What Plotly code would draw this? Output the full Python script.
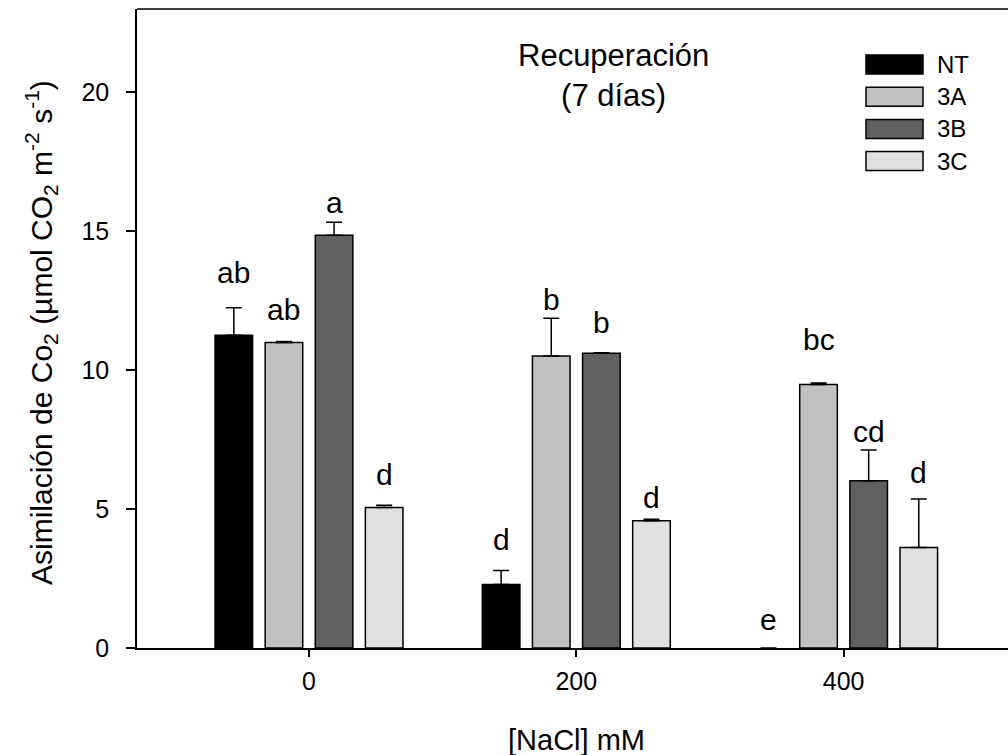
import plotly.graph_objects as go

# ---- data ----
nacl = [0, 200, 400]
series = ["NT", "3A", "3B", "3C"]
colors = ["#000000", "#c0c0c0", "#606060", "#e0e0e0"]
means = {
    "NT": [11.26, 2.29, 0.0],
    "3A": [11.00, 10.51, 9.48],
    "3B": [14.86, 10.61, 6.02],
    "3C": [5.06, 4.58, 3.62],
}
errs = {
    "NT": [0.99, 0.50, 0.0],
    "3A": [0.03, 1.36, 0.06],
    "3B": [0.46, 0.02, 1.11],
    "3C": [0.08, 0.05, 1.74],
}
letters = {
    "NT": ["ab", "d", "e"],
    "3A": ["ab", "b", "bc"],
    "3B": ["a", "b", "cd"],
    "3C": ["d", "d", "d"],
}
# baseline height (data units) of each letter label
letter_y = {
    "NT": [13.13, 3.53, 0.65],
    "3A": [11.80, 12.16, 10.72],
    "3B": [15.65, 11.33, 7.41],
    "3C": [5.86, 5.04, 5.94],
}
yticks = [0, 5, 10, 15, 20]

FONT = "Arial, Liberation Sans, sans-serif"
W, H = 1008, 755
ML, MR, MT, MB = 137, 0, 9, 107
PW, PH = W - ML - MR, H - MT - MB

def px(xp):
    return (xp - ML) / PW

def py(yp):
    return (H - MB - yp) / PH

bargap, bargroupgap = 0.25, 0.25
spacing = nacl[1] - nacl[0]
slot = spacing * (1 - bargap) / len(series)

fig = go.Figure()
for i, s in enumerate(series):
    m = means[s]
    fig.add_trace(go.Bar(
        x=nacl, y=m, name=s,
        marker=dict(color=colors[i],
                    line=dict(color="black", width=[1.5 if v > 0 else 0 for v in m])),
        error_y=dict(type="data",
                     array=[e if v > 0 else None for e, v in zip(errs[s], m)],
                     arrayminus=[0] * len(nacl),
                     symmetric=False, color="black", thickness=1.5, width=8),
        showlegend=False,
    ))

annotations = []
for i, s in enumerate(series):
    off = (i - (len(series) - 1) / 2) * slot
    for j, xv in enumerate(nacl):
        annotations.append(dict(
            x=xv + off, y=letter_y[s][j], xref="x", yref="y",
            text=letters[s][j], showarrow=False, yanchor="bottom",
            yshift=-8, font=dict(size=30, family=FONT, color="black")))

# title
annotations.append(dict(x=px(613), y=py(76), xref="paper", yref="paper",
                        text="Recuperación<br>(7 días)", showarrow=False,
                        font=dict(size=31, family=FONT, color="black"),
                        align="center", xanchor="center", yanchor="middle"))
# axis titles
annotations.append(dict(x=px(576), y=py(740), xref="paper", yref="paper",
                        text="[NaCl] mM", showarrow=False,
                        font=dict(size=29, family=FONT, color="black"),
                        xanchor="center", yanchor="middle"))
annotations.append(dict(x=px(41), y=py(333), xref="paper", yref="paper",
                        text="Asimilación de Co<sub>2</sub> (µmol CO<sub>2</sub> m<sup>-2</sup> s<sup>-1</sup>)",
                        showarrow=False, textangle=-90,
                        font=dict(size=30, family=FONT, color="black"),
                        xanchor="center", yanchor="middle"))

# legend drawn manually
shapes = []
for i, s in enumerate(series):
    yc = 64.5 + i * 32.2
    shapes.append(dict(type="rect", xref="paper", yref="paper",
                       x0=px(866), x1=px(923), y0=py(yc - 9.5), y1=py(yc + 9.5),
                       fillcolor=colors[i], line=dict(color="black", width=1.5)))
    annotations.append(dict(x=px(935), y=py(yc), xref="paper", yref="paper",
                            text=s, showarrow=False, xanchor="left", yanchor="middle",
                            font=dict(size=24, family=FONT, color="black")))
# top border
shapes.append(dict(type="line", xref="paper", yref="paper", x0=0, x1=1, y0=1, y1=1,
                   line=dict(color="black", width=1.5)))

xmin = -128.7
xmax = xmin + PW / 1.3365

fig.update_layout(
    width=W, height=H,
    margin=dict(l=ML, r=MR, t=MT, b=MB, pad=0),
    paper_bgcolor="white", plot_bgcolor="white",
    barmode="group", bargap=bargap, bargroupgap=bargroupgap,
    annotations=annotations, shapes=shapes,
    font=dict(family=FONT, color="black"),
    xaxis=dict(range=[xmin, xmax], tickvals=nacl, ticktext=[str(v) for v in nacl],
               ticks="outside", ticklen=7, tickwidth=1.5, tickcolor="black",
               showline=True, linecolor="black", linewidth=1.5, showgrid=False,
               zeroline=False, tickfont=dict(size=25, family=FONT, color="black"),
               ticklabelstandoff=3),
    yaxis=dict(range=[0, 23], tickvals=yticks, ticks="outside", ticklen=9,
               tickwidth=1.5, tickcolor="black", showline=True, linecolor="black",
               linewidth=1.5, showgrid=False, zeroline=False,
               tickfont=dict(size=25, family=FONT, color="black"),
               ticklabelstandoff=12),
)

fig.write_html("out.html")
